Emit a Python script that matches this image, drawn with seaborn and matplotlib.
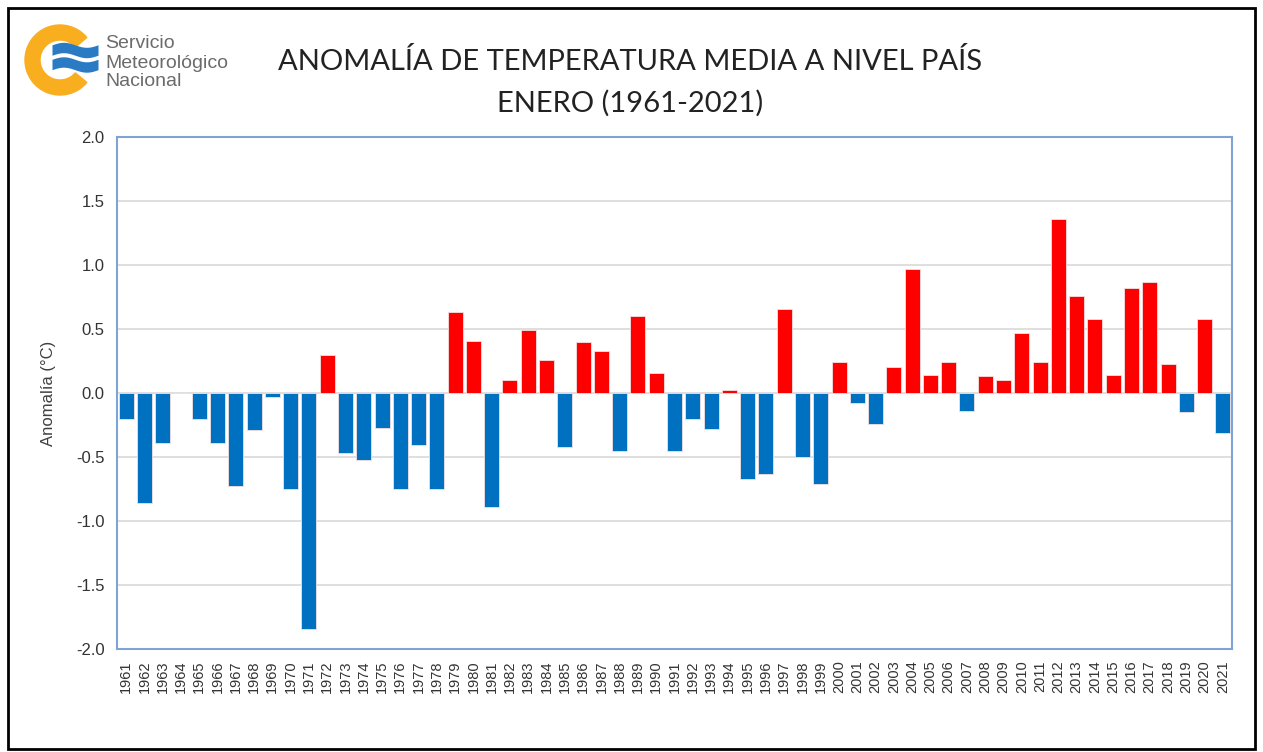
import numpy as np
import pandas as pd
import matplotlib.pyplot as plt
import seaborn as sns
from matplotlib.patches import Wedge, Rectangle

# Datos: anomalía de temperatura media de enero (°C)
anios = list(range(1961, 2022))
anomalias = [
    -0.20, -0.86, -0.39, 0.00, -0.20, -0.39, -0.73, -0.29, -0.03, -0.75,
    -1.84, 0.30, -0.47, -0.52, -0.27, -0.75, -0.41, -0.75, 0.63, 0.41,
    -0.89, 0.10, 0.49, 0.26, -0.42, 0.40, 0.33, -0.45, 0.60, 0.16,
    -0.45, -0.20, -0.28, 0.02, -0.67, -0.63, 0.66, -0.50, -0.71, 0.24,
    -0.08, -0.24, 0.20, 0.97, 0.14, 0.24, -0.14, 0.13, 0.10, 0.47,
    0.24, 1.36, 0.76, 0.58, 0.14, 0.82, 0.87, 0.23, -0.15, 0.58,
    -0.31,
]
y_ticks = [-2.0, -1.5, -1.0, -0.5, 0.0, 0.5, 1.0, 1.5, 2.0]

df = pd.DataFrame({"anio": [str(a) for a in anios], "anomalia": anomalias})
df["signo"] = np.where(df["anomalia"] > 0, "pos", "neg")

AZUL = "#0070C0"
ROJO = "#FF0000"
EJE = "#7FA3D5"
W, H = 1263, 752

sns.set_style("white")
plt.rcParams["font.family"] = ["Liberation Sans", "DejaVu Sans"]

fig = plt.figure(figsize=(W / 100, H / 100), dpi=100)
ax = fig.add_axes([117 / W, 1 - 649 / H, (1232 - 117) / W, (649 - 137) / H])

sns.barplot(data=df, x="anio", y="anomalia", hue="signo",
            palette={"pos": ROJO, "neg": AZUL}, saturation=1, width=0.82,
            edgecolor="#f3e0e0", linewidth=0.6, legend=False, ax=ax, zorder=3)

ax.set_ylim(-2.0, 2.0)
ax.set_xlim(-0.5, len(anios) - 0.5)
ax.set_yticks(y_ticks)
ax.set_yticklabels([f"{v:.1f}" for v in y_ticks], fontsize=12, color="#333333")
ax.yaxis.grid(True, color="#d9d9d9", linewidth=1.2, zorder=0)
ax.set_axisbelow(True)
ax.tick_params(axis="y", length=5, color=EJE, width=1.2, pad=4)
ax.tick_params(axis="x", length=0, labelrotation=90, labelsize=10.5,
               labelcolor="#333333", pad=8)
ax.set_xlabel("")
ax.set_ylabel("Anomalía (°C)", fontsize=12, color="#404040", labelpad=14)
for s in ax.spines.values():
    s.set_color(EJE)
    s.set_linewidth(1.5)

# Títulos
fig.text(630 / W, 1 - 62 / H, "ANOMALÍA DE TEMPERATURA MEDIA A NIVEL PAÍS",
         ha="center", va="center", fontsize=21, color="#222222", family="Lato")
fig.text(630 / W, 1 - 103 / H, "ENERO (1961-2021)",
         ha="center", va="center", fontsize=21, color="#222222", family="Lato")

# Marco exterior
fig.patches.append(Rectangle((0.006, 0.004), 0.988, 0.986, transform=fig.transFigure,
                             fill=False, edgecolor="black", linewidth=2))

# Logo del SMN (coordenadas en píxeles)
lax = fig.add_axes([20 / W, 1 - 100 / H, 85 / W, 80 / H])
lax.set_xlim(20, 105)
lax.set_ylim(100, 20)
lax.axis("off")
lax.add_patch(Wedge((60, 60), 35, 40, 320, width=15, color="#F9AE20"))
xs = np.linspace(52, 98, 200)
onda = 2.5 * np.sin((xs - 52) / 46 * 2 * np.pi + np.pi)
for centro in (50, 64.5):
    lax.fill_between(xs, centro + onda - 5.2, centro + onda + 5.2,
                     color="#2A7BC4", linewidth=0)
for i, txt in enumerate(["Servicio", "Meteorológico", "Nacional"]):
    fig.text(105 / W, 1 - (44 + 19 * i) / H, txt, fontsize=14, color="#6b6b6b",
             va="center", family="Liberation Sans")

fig.savefig("out.png", dpi=100)
